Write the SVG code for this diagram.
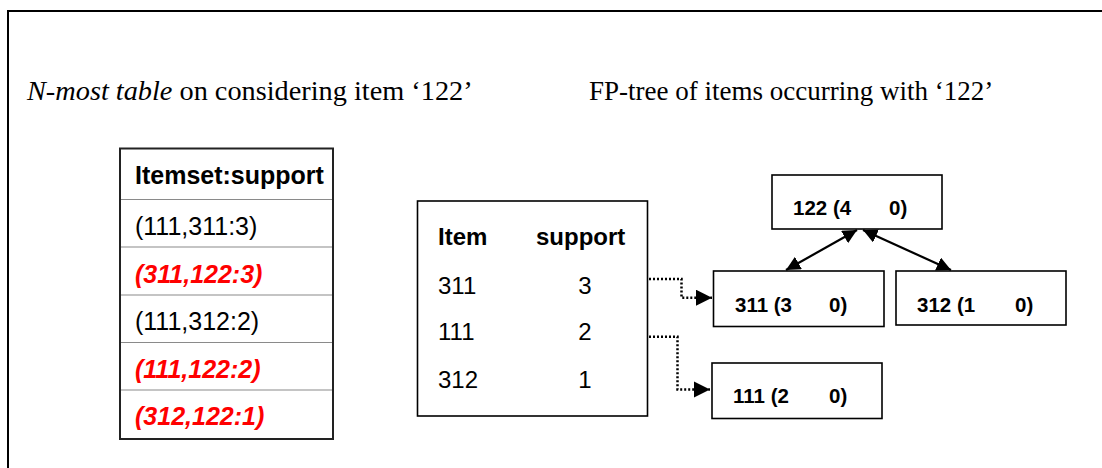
<svg xmlns="http://www.w3.org/2000/svg" width="1102" height="468" viewBox="0 0 1102 468">
  <style>
    .title { font-family: "Liberation Serif", "Times New Roman", serif; fill: #000; }
    .cell { font-family: "Liberation Sans", Arial, sans-serif; font-size: 25px; fill: #000; }
    .hot { font-weight: bold; font-style: italic; fill: #ff0000; }
    .item { font-family: "Liberation Sans", Arial, sans-serif; font-size: 24px; fill: #000; }
    .node { font-family: "Liberation Sans", Arial, sans-serif; font-size: 20.5px; font-weight: bold; fill: #000; }
    .box { fill: #fff; stroke: #000; stroke-width: 1.6; }
    .grid { stroke: #8a8a8a; stroke-width: 1.2; }
    .edge { stroke: #000; stroke-width: 2.2; fill: none; }
    .dot { stroke: #000; stroke-width: 2.5; fill: none; stroke-dasharray: 2 2; }
  </style>
  <defs>
    <marker id="head" viewBox="0 0 10 10" refX="10" refY="5" markerWidth="6.5" markerHeight="6.5" orient="auto-start-reverse" markerUnits="strokeWidth">
      <path d="M0,0 L10,5 L0,10 Z" fill="#000"/>
    </marker>
  </defs>

  <rect width="1102" height="468" fill="#fff"/>
  <!-- outer frame -->
  <rect x="8" y="11" width="1200" height="600" fill="none" stroke="#000" stroke-width="2"/>

  <!-- headings -->
  <text class="title" x="27" y="100" font-size="28.3"><tspan font-style="italic">N-most table</tspan> on considering item ‘122’</text>
  <text class="title" x="589" y="100" font-size="27">FP-tree of items occurring with ‘122’</text>

  <!-- N-most table -->
  <g id="nmost-table">
    <rect x="120" y="148.5" width="213" height="290.5" fill="#fff" stroke="#222" stroke-width="2"/>
    <line class="grid" x1="121" y1="199.5" x2="332" y2="199.5"/>
    <line class="grid" x1="121" y1="247" x2="332" y2="247"/>
    <line class="grid" x1="121" y1="295" x2="332" y2="295"/>
    <line class="grid" x1="121" y1="342.5" x2="332" y2="342.5"/>
    <line class="grid" x1="121" y1="390" x2="332" y2="390"/>
    <text class="cell" x="135" y="184" font-weight="bold" font-size="23.8">Itemset:support</text>
    <text class="cell" x="135" y="235">(111,311:3)</text>
    <text class="cell hot" x="135" y="282.5">(311,122:3)</text>
    <text class="cell" x="135" y="330">(111,312:2)</text>
    <text class="cell hot" x="135" y="377.5">(111,122:2)</text>
    <text class="cell hot" x="135" y="425">(312,122:1)</text>
  </g>

  <!-- item / support table -->
  <g id="item-table">
    <rect class="box" x="417.5" y="201" width="230" height="215"/>
    <text class="item" x="438" y="245" font-weight="bold">Item</text>
    <text class="item" x="536" y="245" font-weight="bold">support</text>
    <text class="item" x="438" y="293.5">311</text>
    <text class="item" x="585" y="293.5" text-anchor="middle">3</text>
    <text class="item" x="438" y="340">111</text>
    <text class="item" x="585" y="340" text-anchor="middle">2</text>
    <text class="item" x="438" y="388">312</text>
    <text class="item" x="585" y="388" text-anchor="middle">1</text>
  </g>

  <!-- FP-tree nodes -->
  <g id="node-122">
    <rect class="box" x="772" y="175" width="170" height="54"/>
    <text class="node" y="215"><tspan x="793">122 (4</tspan><tspan x="889">0)</tspan></text>
  </g>
  <g id="node-311">
    <rect class="box" x="713.5" y="271" width="170.5" height="55.5"/>
    <text class="node" y="312"><tspan x="735">311 (3</tspan><tspan x="829">0)</tspan></text>
  </g>
  <g id="node-312">
    <rect class="box" x="896" y="271" width="170" height="54"/>
    <text class="node" y="312"><tspan x="917">312 (1</tspan><tspan x="1015">0)</tspan></text>
  </g>
  <g id="node-111">
    <rect class="box" x="712" y="363" width="170" height="55.5"/>
    <text class="node" y="403"><tspan x="733">111 (2</tspan><tspan x="829">0)</tspan></text>
  </g>

  <!-- connectors -->
  <g id="connectors">
    <line class="edge" x1="786" y1="270" x2="857" y2="230" marker-start="url(#head)" marker-end="url(#head)"/>
    <line class="edge" x1="863" y1="230" x2="951" y2="270" marker-start="url(#head)" marker-end="url(#head)"/>
    <polyline class="dot" points="649,279 681.5,279 681.5,297.7 712,297.7" marker-end="url(#head)"/>
    <polyline class="dot" points="649,336.7 677.5,336.7 677.5,389.5 710,389.5" marker-end="url(#head)"/>
  </g>
</svg>
